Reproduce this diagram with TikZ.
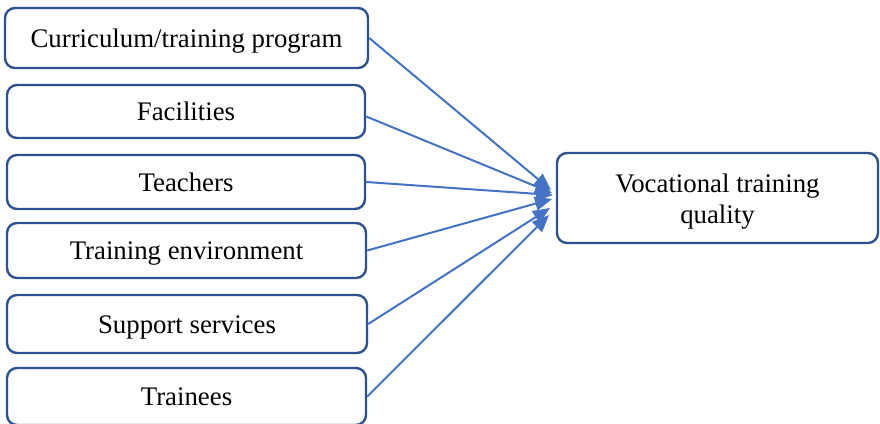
\documentclass[tikz,border=0pt]{standalone}
\usepackage{fontspec}
\setmainfont{Liberation Serif}
\usetikzlibrary{arrows.meta}
\definecolor{boxline}{HTML}{2F528F}
\definecolor{arrowline}{HTML}{4472C4}
\begin{document}
\begin{tikzpicture}[x=1pt,y=-1pt,
  txt/.style={font=\fontsize{26.8}{31}\selectfont,align=center,inner sep=0pt},
  box/.style={draw=boxline,line width=2.4pt,rounded corners=10pt,fill=white,
    inner sep=0pt,txt,text height=22pt,text depth=4pt},
  conn/.style={draw=arrowline,line width=2pt,-{Triangle[length=17pt,width=14pt]}}]
\useasboundingbox (0,0) rectangle (880,423);
\node[box,minimum width=363pt,minimum height=60pt] (b1) at (186.5,38) {Curriculum/training program};
\node[box,minimum width=358pt,minimum height=53pt] (b2) at (186,111.5) {Facilities};
\node[box,minimum width=358pt,minimum height=54pt] (b3) at (186,182) {Teachers};
\node[box,minimum width=359pt,minimum height=55pt] (b4) at (186.5,250.5) {Training environment};
\node[box,minimum width=360pt,minimum height=58pt] (b5) at (187,324) {Support services};
\node[box,minimum width=359pt,minimum height=57pt] (b6) at (186.5,396.5) {Trainees};
\node[draw=boxline,line width=2.4pt,rounded corners=10pt,fill=white,
  minimum width=321pt,minimum height=90pt] (q) at (717.5,198) {};
\node[txt] (qt) at ([yshift=-4pt]q.center) {Vocational training\\quality};
\coordinate (t1) at (551,190);
\coordinate (t2) at (552,193);
\coordinate (t3) at (553,195);
\coordinate (t4) at (552,199);
\coordinate (t5) at (550,208);
\coordinate (t6) at (549,215);
\draw[conn] (b1.east) -- (t1);
\draw[conn] ([yshift=-5pt]b2.east) -- (t2);
\draw[conn] (b3.east) -- (t3);
\draw[conn] (b4.east) -- (t4);
\draw[conn] (b5.east) -- (t5);
\draw[conn] (b6.east) -- (t6);
\end{tikzpicture}
\end{document}
